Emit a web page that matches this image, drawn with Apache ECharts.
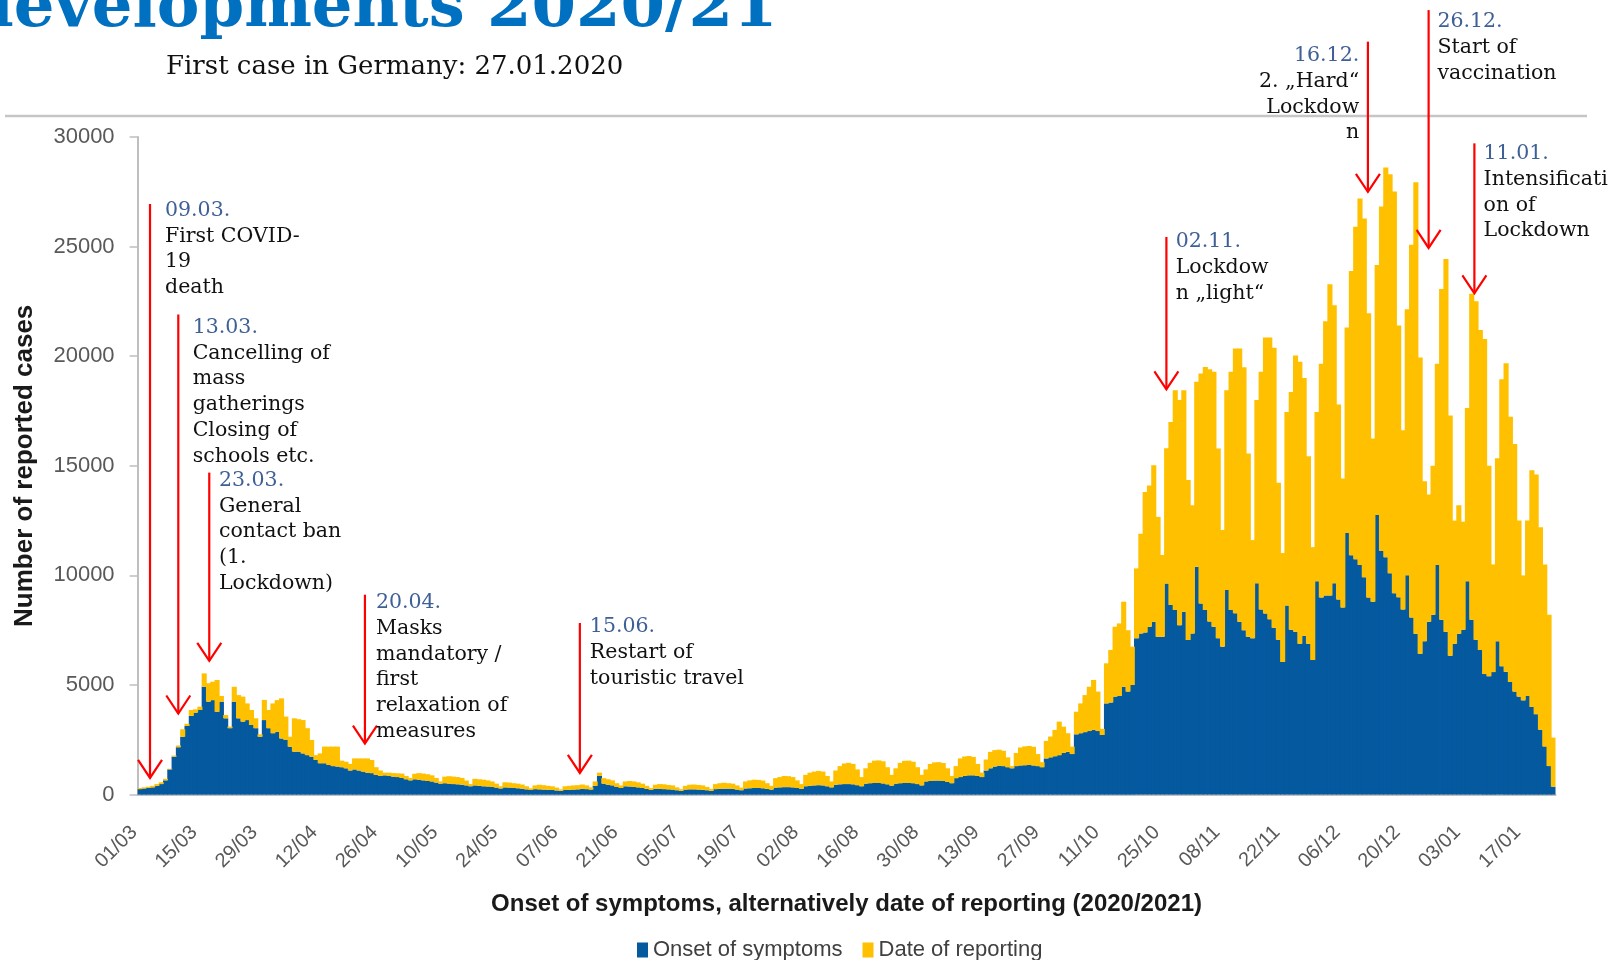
<!DOCTYPE html>
<html>
<head>
<meta charset="utf-8">
<script src="https://cdn.jsdelivr.net/npm/echarts/dist/echarts.min.js"></script>
<style>
html,body{margin:0;padding:0;background:#ffffff;}
#c{width:1623px;height:960px;}
</style>
</head>
<body>
<div id="c"></div>
<script>
// ---------- DATA ----------
const firstDay = '2020-03-01';
const tickLabels = ['01/03','15/03','29/03','12/04','26/04','10/05','24/05','07/06','21/06','05/07','19/07','02/08',
  '16/08','30/08','13/09','27/09','11/10','25/10','08/11','22/11','06/12','20/12','03/01','17/01'];
const yTicks = [0, 5000, 10000, 15000, 20000, 25000, 30000];

// Onset of symptoms (blue), per day, by month
const onsetMar = [250,280,300,330,400,480,650,1150,1730,2160,2640,3130,3590,3740,3860,4920,4240,4310,3780,4240,3480,3030,4240,3480,3330,3400,3175,3030,2640,3400,3030];
const onsetApr = [2800,2870,2560,2490,2185,1960,1960,1880,1800,1730,1580,1430,1430,1350,1300,1280,1250,1200,1100,1150,1100,1050,1000,980,900,850,880,850,820,800];
const onsetMay = [760,700,650,700,680,650,620,600,550,500,520,500,480,470,450,420,380,420,400,380,370,350,320,280,330,320,300,290,270,240,210];
const onsetJun = [250,240,230,220,210,190,170,210,220,230,240,260,250,230,400,850,500,450,420,350,300,380,370,350,330,300,260,220,270,260];
const onsetJul = [250,240,230,200,170,230,240,240,230,220,200,170,250,260,270,270,260,230,200,280,290,300,300,290,260,230,320,330,340,340,330];
const onsetAug = [300,260,380,400,420,430,420,380,330,450,470,480,480,470,430,380,500,520,530,530,510,470,410,500,520,530,530,520,480,420,600];
const onsetSep = [620,640,640,620,580,520,750,800,850,880,880,850,800,1100,1200,1280,1320,1300,1250,1200,1300,1330,1340,1350,1330,1300,1250,1650,1700,1750];
const onsetOct = [1800,1900,1950,1850,2750,2800,2850,2900,2950,2900,2720,4160,4200,4470,4500,4920,4700,5000,7130,7350,7400,7660,7890,7200,7200,9630,8650,8420,7730,8340,7050];
const onsetNov = [7350,10390,8720,8420,7900,7660,7130,6750,9330,8420,8270,7890,7500,7200,7130,9640,8440,8260,8000,7610,7060,6050,8630,7520,7430,6880,7250,6880,6140,9730];
const onsetDec = [8990,9080,9080,9640,8900,8530,11930,10920,10740,10470,9910,8990,8800,12760,11110,10830,10100,9180,9000,8440,10010,8080,7340,6420,7000,7890,8200,10470,7980,7430,6330];
const onsetJan = [6880,7340,7520,9730,7980,7060,6600,5500,5400,5590,7000,5850,5600,5140,4700,4470,4300,4500,4000,3670,2960,2200,1300,360];

// Date of reporting (yellow, stacked on top), per day, by month
const reportMar = [50,50,60,70,80,80,70,30,50,80,340,100,270,150,150,610,840,840,1450,260,150,70,680,1060,1140,760,685,450,110,920,830];
const reportApr = [1360,1440,1830,1070,455,1520,1480,1520,1230,760,220,450,760,840,890,910,300,300,300,500,550,600,650,600,350,250,120,150,160,170];
const reportMay = [200,150,110,250,300,310,310,280,210,100,300,340,340,330,310,220,100,300,300,300,280,250,180,100,230,230,220,210,190,140,80];
const reportJun = [170,210,200,180,170,130,70,170,180,190,190,200,170,100,200,150,250,250,230,170,120,220,250,250,230,200,140,80,180,220];
const reportJul = [220,200,190,130,80,170,210,220,210,200,150,90,230,260,270,250,240,190,120,320,360,380,370,350,260,170,430,470,510,500,470];
const reportAug = [350,220,520,600,630,650,630,470,270,650,830,940,970,930,720,420,700,930,1020,1030,1010,780,490,700,930,1010,1020,980,770,480,550];
const reportSep = [780,830,840,820,620,330,550,850,890,880,840,550,200,500,750,750,730,700,450,100,600,820,860,870,850,550,230,800,950,1200];
const reportOct = [1530,1200,850,340,1030,1360,1690,2020,2280,1800,280,1830,2400,3190,3310,3880,2800,1750,3190,4550,6400,6440,7140,5470,3730,6170,8350,10030,10270,10110,7300];
const reportNov = [5850,8440,10490,11090,11500,11630,8660,5320,9120,10870,12080,12460,12000,8360,4480,8360,10850,12590,12850,12780,7170,4970,8820,10850,12600,12870,11760,8550,5150,7720];
const reportDec = [10670,12510,14200,12680,8900,5890,9380,12970,15170,16730,16370,12970,7450,11400,15720,17780,18200,18330,12400,8180,12130,17000,20590,13520,7300,5800,6800,9180,15090,17010,10970];
const reportJan = [5620,5860,4930,7910,14870,15450,14600,15280,9600,4910,8340,13100,14080,12100,11290,8030,5700,8000,10800,10930,9240,8300,6900,2240];

// Event annotations (text content)
const eventDates = ['09.03.','13.03.','23.03.','20.04.','15.06.','02.11.','16.12.','26.12.','11.01.'];
const eventTexts = [
  ['First COVID-','19','death'],
  ['Cancelling of','mass','gatherings','Closing of','schools etc.'],
  ['General','contact ban','(1.','Lockdown)'],
  ['Masks','mandatory /','first','relaxation of','measures'],
  ['Restart of','touristic travel'],
  ['Lockdow','n \u201Elight\u201C'],
  ['2. \u201EHard\u201C','Lockdow','n'],
  ['Start of','vaccination'],
  ['Intensificati','on of','Lockdown']
];
// arrow anchor in data space: day index (fractional), value at arrow top, value at arrow tip
const eventDay  = [2.39, 8.97, 16.18, 52.41, 102.43, 238.94, 285.84, 299.97, 310.62];
const eventTop  = [26940, 21900, 14690, 9120, 7830, 25440, 34350, 35790, 29710];
const eventTip  = [760, 3700, 6100, 2330, 990, 18490, 27500, 24940, 22870];

// ---------- LAYOUT / STYLE ----------
const textLayout = [ // dx from arrow, dy of first line centre from arrow top, alignment
  {dx:15, dy:6.4, align:'left'},
  {dx:14.4, dy:13, align:'left'},
  {dx:9.7, dy:7.9, align:'left'},
  {dx:11, dy:7.9, align:'left'},
  {dx:10, dy:4, align:'left'},
  {dx:9.3, dy:5, align:'left'},
  {dx:-8.7, dy:14, align:'right'},
  {dx:8.8, dy:11.5, align:'left'},
  {dx:9.2, dy:10.4, align:'left'}
];
const LINE_H = 25.8;
const ANNO_FONT = '20.5px "DejaVu Serif"';
const BLUE = '#04599F', YELLOW = '#FFC000', RED = '#FF0000';

const onset = [].concat(onsetMar, onsetApr, onsetMay, onsetJun, onsetJul, onsetAug, onsetSep, onsetOct, onsetNov, onsetDec, onsetJan);
const reporting = [].concat(reportMar, reportApr, reportMay, reportJun, reportJul, reportAug, reportSep, reportOct, reportNov, reportDec, reportJan);

function pad(n){ return (n < 10 ? '0' : '') + n; }
const categories = [];
const t0 = Date.parse(firstDay + 'T00:00:00Z');
for (let i = 0; i < onset.length; i++) {
  const d = new Date(t0 + i * 86400000);
  categories.push(pad(d.getUTCDate()) + '/' + pad(d.getUTCMonth() + 1));
}
const tickSet = new Set(tickLabels);

const chart = echarts.init(document.getElementById('c'), null, {renderer: 'canvas', width: 1623, height: 960});

const option = {
  animation: false,
  backgroundColor: '#ffffff',
  grid: {left: 137.6, top: 137, right: 67.5, bottom: 165.4, containLabel: false},
  legend: {
    left: 632, top: 934, itemWidth: 11, itemHeight: 15, itemGap: 20, icon: 'rect',
    textStyle: {fontFamily: 'Liberation Sans', fontSize: 22, color: '#404040'},
    data: ['Onset of symptoms', 'Date of reporting']
  },
  xAxis: {
    type: 'category', data: categories, boundaryGap: true,
    axisLine: {lineStyle: {color: '#BFBFBF', width: 2}},
    axisTick: {interval: function (i, v) { return tickSet.has(v); }, length: 8, lineStyle: {color: '#BFBFBF', width: 1.5}},
    axisLabel: {interval: function (i, v) { return tickSet.has(v); }, rotate: 45, margin: 29,
      padding: [0, 8, 0, 0],
      fontFamily: 'Liberation Sans', fontSize: 20, color: '#595959'},
    name: 'Onset of symptoms, alternatively date of reporting (2020/2021)',
    nameLocation: 'middle', nameGap: 98,
    nameTextStyle: {fontFamily: 'Liberation Sans', fontWeight: 'bold', fontSize: 24, color: '#1a1a1a'}
  },
  yAxis: {
    type: 'value', min: yTicks[0], max: yTicks[yTicks.length - 1], interval: yTicks[1] - yTicks[0],
    splitLine: {show: false},
    axisLine: {show: true, lineStyle: {color: '#BFBFBF', width: 2}},
    axisTick: {show: true, length: 8, lineStyle: {color: '#BFBFBF', width: 1.5}},
    axisLabel: {margin: 23, fontFamily: 'Liberation Sans', fontSize: 22, color: '#595959',
      formatter: function (v) { return String(v); }},
    name: 'Number of reported cases', nameLocation: 'middle', nameGap: 100, nameRotate: 90,
    nameTextStyle: {fontFamily: 'Liberation Sans', fontWeight: 'bold', fontSize: 26, color: '#1a1a1a'}
  },
  series: [
    {name: 'Onset of symptoms', type: 'bar', stack: 'cases', data: onset, barWidth: 5.1,
      itemStyle: {color: BLUE}},
    {name: 'Date of reporting', type: 'bar', stack: 'cases', data: reporting, barWidth: 5.1,
      itemStyle: {color: YELLOW}}
  ]
};
chart.setOption(option);

// ---------- annotations, title, subtitle ----------
const N = categories.length;
const xA = chart.convertToPixel({xAxisIndex: 0}, 0);
const xB = chart.convertToPixel({xAxisIndex: 0}, N - 1);
const yA = chart.convertToPixel({yAxisIndex: 0}, 0);
const yB = chart.convertToPixel({yAxisIndex: 0}, 30000);
function px(idx) { return xA + idx * (xB - xA) / (N - 1); }
function py(v) { return yA + v * (yB - yA) / 30000; }

const g = [];
g.push({type: 'text', x: -31, y: 9, silent: true,
  style: {text: 'developments 2020/21', font: 'bold 64px "DejaVu Serif"', fill: '#0070C0', textAlign: 'left', textVerticalAlign: 'middle'}});
g.push({type: 'text', x: 166, y: 67, silent: true,
  style: {text: 'First case in Germany: 27.01.2020', font: '26px "DejaVu Serif"', fill: '#111111', textAlign: 'left', textVerticalAlign: 'middle'}});
g.push({type: 'line', silent: true, shape: {x1: 5, y1: 116, x2: 1587, y2: 116}, style: {stroke: '#C6C6C6', lineWidth: 2.5}});

for (let k = 0; k < eventDates.length; k++) {
  const x = px(eventDay[k]);
  const yTop = py(eventTop[k]);
  const yTip = py(eventTip[k]);
  g.push({type: 'line', silent: true, z: 10, shape: {x1: x, y1: yTop, x2: x, y2: yTip}, style: {stroke: RED, lineWidth: 2.2}});
  g.push({type: 'polyline', silent: true, z: 10, shape: {points: [[x - 12, yTip - 18], [x, yTip], [x + 12, yTip - 18]]},
    style: {stroke: RED, lineWidth: 2.2, fill: null}});
  const L = textLayout[k];
  const lines = [eventDates[k]].concat(eventTexts[k]);
  for (let j = 0; j < lines.length; j++) {
    g.push({type: 'text', silent: true, z: 11, x: x + L.dx, y: yTop + L.dy + j * LINE_H,
      style: {text: lines[j], font: ANNO_FONT, fill: j === 0 ? '#3E6096' : '#111111',
        textAlign: L.align, textVerticalAlign: 'middle'}});
  }
}
chart.setOption({graphic: {elements: g}});
</script>
</body>
</html>
